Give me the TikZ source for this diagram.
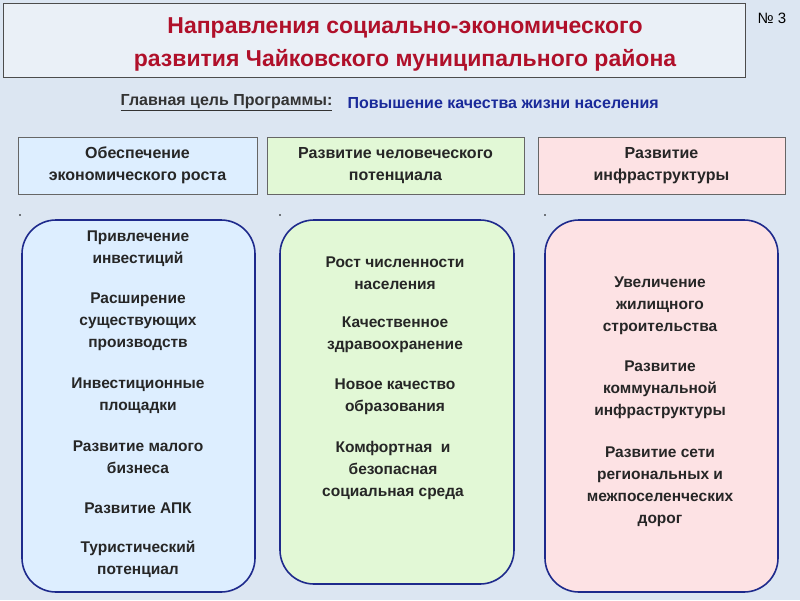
\documentclass[tikz,border=0pt]{standalone}
\usepackage{fontspec}
\setmainfont{Liberation Sans}
\usetikzlibrary{positioning, fit, calc}
\definecolor{bgblue}{HTML}{DCE6F2}
\definecolor{titred}{HTML}{B0102A}
\definecolor{goalblue}{HTML}{1A2A9A}
\definecolor{frameblue}{HTML}{1E2A8C}
\definecolor{fillA}{HTML}{DDEEFF}
\definecolor{fillB}{HTML}{E2F8D6}
\definecolor{fillC}{HTML}{FDE2E4}

\begin{document}
\begin{tikzpicture}[x=1pt, y=-1pt]
	\tikzstyle{head}=[rectangle, draw=black!60, thin, align=center, font=\bfseries\fontsize{16}{22}\selectfont, text=black!85]
	\tikzstyle{column}=[rectangle, draw=frameblue, line width=1.6pt, rounded corners=34pt]
	\tikzstyle{item}=[align=center, font=\bfseries\fontsize{15.5}{22}\selectfont, text=black!85, inner sep=0pt]
	\tikzstyle{dot}=[circle, fill=black, inner sep=0.6pt]
	\fill[bgblue] (0,0) rectangle (800,600);
	\useasboundingbox (0,0) rectangle (800,600);
	% title
	\node[rectangle, draw=black!70, fill=bgblue!60!white, minimum width=742pt, minimum height=74pt, anchor=north west] (title) at (3,3) {};
	\node[align=center, text=titred, font=\bfseries\fontsize{23}{33}\selectfont] (titletext) at (405,44) {Направления социально-экономического\\развития Чайковского муниципального района};
	\node[font=\fontsize{15}{18}\selectfont] (num) at (772,18) {№ 3};
	% goal
	\node[font=\bfseries\fontsize{16}{18}\selectfont, text=black!80, anchor=east] (goal) at (336,103) {\underline{Главная цель Программы:}};
	\node[font=\bfseries\fontsize{16}{18}\selectfont, text=goalblue, anchor=west] (goaltext) at (344,103) {Повышение качества жизни населения};
	% headers
	\node[head, fill=fillA, minimum width=239pt, minimum height=57pt] (hA) at (137.5,165.5) {Обеспечение\\экономического роста};
	\node[head, fill=fillB, minimum width=257pt, minimum height=57pt] (hB) at (395.5,165.5) {Развитие человеческого\\потенциала};
	\node[head, fill=fillC, minimum width=247pt, minimum height=57pt] (hC) at (661.5,165.5) {Развитие\\инфраструктуры};
	\node[dot] (dA) at (20,215) {};
	\node[dot] (dB) at (280,215) {};
	\node[dot] (dC) at (545,215) {};
	% columns
	\draw[column, fill=fillA] (22,220) rectangle (255,592);
	\draw[column, fill=fillB] (280,220) rectangle (514,584);
	\draw[column, fill=fillC] (545,220) rectangle (778,592);
	% items A
	\node[item] (a1) at (138,249) {Привлечение\\инвестиций};
	\node[item] (a2) at (138,322) {Расширение\\существующих\\производств};
	\node[item] (a3) at (138,396) {Инвестиционные\\площадки};
	\node[item] (a4) at (138,457) {Развитие малого\\бизнеса};
	\node[item] (a5) at (138,508) {Развитие АПК};
	\node[item] (a6) at (138,559.5) {Туристический\\потенциал};
	% items B
	\node[item] (b1) at (395,273) {Рост численности\\населения};
	\node[item] (b2) at (395,335) {Качественное\\здравоохранение};
	\node[item] (b3) at (395,396.5) {Новое качество\\образования};
	\node[item] (b4) at (393,470) {Комфортная \ и\\безопасная\\социальная среда};
	% items C
	\node[item] (c1) at (660,306) {Увеличение\\жилищного\\строительства};
	\node[item] (c2) at (660,390) {Развитие\\коммунальной\\инфраструктуры};
	\node[item] (c3) at (660,487) {Развитие сети\\региональных и\\межпоселенческих\\дорог};
\end{tikzpicture}
\end{document}
